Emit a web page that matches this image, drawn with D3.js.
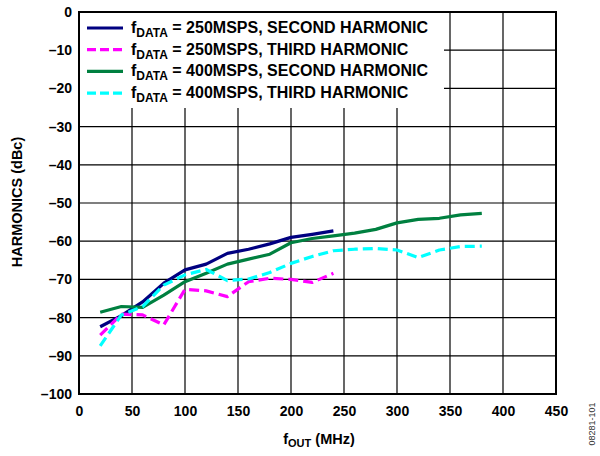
<!DOCTYPE html>
<html><head><meta charset="utf-8">
<script src="https://cdn.jsdelivr.net/npm/d3@7"></script>
<style>body{margin:0;background:#fff}svg{display:block}</style>
</head><body>
<svg id="c" width="600" height="456"></svg>
<script>
const xTicks = [0,50,100,150,200,250,300,350,400,450];
const yTicks = [0,-10,-20,-30,-40,-50,-60,-70,-80,-90,-100];
const freq250 = [20,40,60,80,100,120,140,160,180,200,220,240];
const freq400 = [20,40,60,80,100,120,140,160,180,200,220,240,260,280,300,320,340,360,380];
const h2_250 = [-82.4,-79.5,-75.9,-71,-67.5,-66,-63.2,-62.1,-60.7,-59,-58.2,-57.3];
const h3_250 = [-84.6,-79.1,-79.3,-81.9,-72.6,-73,-74.5,-70.6,-69.7,-70,-70.8,-68.4];
const h2_400 = [-78.6,-77.1,-77.3,-74.1,-70.6,-68.4,-66,-64.7,-63.4,-60.4,-59.3,-58.6,-57.9,-56.9,-55.2,-54.3,-54,-53.1,-52.7];
const h3_400 = [-87.4,-79.3,-77.1,-71.5,-68.8,-67.4,-70.3,-69.9,-68.2,-65.8,-64,-62.5,-62.1,-61.9,-62.3,-64.3,-62.3,-61.4,-61.3];
const legendLabels = ["= 250MSPS, SECOND HARMONIC","= 250MSPS, THIRD HARMONIC","= 400MSPS, SECOND HARMONIC","= 400MSPS, THIRD HARMONIC"];

const series = [
  {x:freq250, y:h2_250, color:"#000080", dash:null},
  {x:freq250, y:h3_250, color:"#ff00ff", dash:"10,5"},
  {x:freq400, y:h2_400, color:"#008040", dash:null},
  {x:freq400, y:h3_400, color:"#00ffff", dash:"10,5"}
];

const L=79, R=556, T=12, B=394;
const x = d3.scaleLinear().domain([0,450]).range([L,R]);
const y = d3.scaleLinear().domain([-100,0]).range([B,T]);
const svg = d3.select("#c");
const font = "'Liberation Sans', Arial, sans-serif";

// grid
const g = svg.append("g");
g.selectAll(".vg").data(xTicks.slice(1,-1)).enter().append("line")
  .attr("x1",d=>x(d)).attr("x2",d=>x(d)).attr("y1",T).attr("y2",B)
  .attr("stroke","#000").attr("stroke-width",1.2);
g.selectAll(".hg").data(yTicks.slice(1,-1)).enter().append("line")
  .attr("x1",L).attr("x2",R).attr("y1",d=>y(d)).attr("y2",d=>y(d))
  .attr("stroke","#000").attr("stroke-width",1.2);

// axes labels via d3 axes
const xAxis = d3.axisBottom(x).tickValues(xTicks).tickSize(0).tickPadding(12).tickFormat(d3.format("d"));
const xa = svg.append("g").attr("transform",`translate(0,${B})`).call(xAxis);
xa.select(".domain").remove();
xa.selectAll("text").attr("font-family",font).attr("font-weight","bold").attr("font-size",14).attr("fill","#000");
const yAxis = d3.axisLeft(y).tickValues(yTicks).tickSize(0).tickPadding(7).tickFormat(d=> d<0 ? "\u2013"+Math.abs(d) : d);
const ya = svg.append("g").attr("transform",`translate(${L},0)`).call(yAxis);
ya.select(".domain").remove();
ya.selectAll("text").attr("font-family",font).attr("font-weight","bold").attr("font-size",14).attr("fill","#000");

// lines
const line = d3.line().x(d=>x(d[0])).y(d=>y(d[1]));
series.forEach(s=>{
  svg.append("path").datum(s.x.map((v,i)=>[v,s.y[i]]))
    .attr("d",line).attr("fill","none").attr("stroke",s.color)
    .attr("stroke-width",3.2).attr("stroke-linejoin","round")
    .attr("stroke-dasharray",s.dash);
});

// legend
svg.append("rect").attr("x",L+1).attr("y",T+1).attr("width",443-L).attr("height",108-T-1).attr("fill","#fff");
series.forEach((s,i)=>{
  const yy = 28 + i*21.7;
  svg.append("line").attr("x1",87).attr("x2",123).attr("y1",yy).attr("y2",yy)
    .attr("stroke",s.color).attr("stroke-width",3.2).attr("stroke-dasharray",s.dash ? "9,4" : null);
  const t = svg.append("text").attr("x",131).attr("y",yy+5).attr("font-family",font)
    .attr("font-weight","bold").attr("font-size",16).attr("fill","#000");
  t.append("tspan").text("f");
  t.append("tspan").attr("font-size",12).attr("dy",4).text("DATA");
  t.append("tspan").attr("dy",-4).text(" "+legendLabels[i]);
});

// border
svg.append("rect").attr("x",L).attr("y",T).attr("width",R-L).attr("height",B-T)
  .attr("fill","none").attr("stroke","#000").attr("stroke-width",2);

// axis titles
const xt = svg.append("text").attr("x",319).attr("y",444).attr("text-anchor","middle")
  .attr("font-family",font).attr("font-weight","bold").attr("font-size",14.5);
xt.append("tspan").text("f");
xt.append("tspan").attr("font-size",11).attr("dy",3).text("OUT");
xt.append("tspan").attr("dy",-3).text(" (MHz)");

svg.append("text").attr("transform","translate(22,202) rotate(-90)").attr("text-anchor","middle")
  .attr("font-family",font).attr("font-weight","bold").attr("font-size",14.5).text("HARMONICS (dBc)");

svg.append("text").attr("transform","translate(595,424) rotate(-90)").attr("text-anchor","middle")
  .attr("font-family",font).attr("font-size",9).attr("fill","#333").text("08281-101");
</script>
</body></html>
